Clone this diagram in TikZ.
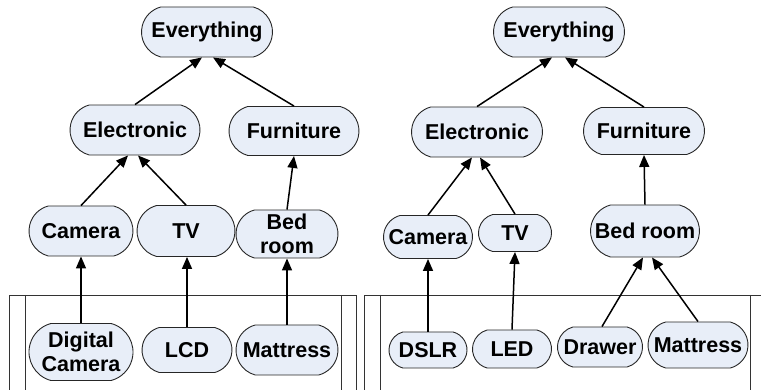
\documentclass[tikz,border=0pt]{standalone}
\usepackage{fontspec}
\setmainfont{Liberation Sans}
\usetikzlibrary{arrows.meta,shapes.misc}
\definecolor{boxfill}{RGB}{232,238,248}
\tikzset{
  cat/.style={rounded rectangle, rounded rectangle arc length=150, draw=black!85, line width=0.9pt,
    fill=boxfill, inner sep=0pt, align=center,
    font=\fontsize{21.5}{24.5}\selectfont\bfseries},
  isa/.style={-{Triangle[length=12pt,width=10pt]}, line width=1.5pt},
  panel/.style={draw=black!80, line width=0.9pt}
}
\begin{document}
\begin{tikzpicture}[x=1pt,y=-1pt]
\useasboundingbox (0,0) rectangle (761,390);

% frames round the leaf level
\draw[panel] (9,390) -- (9,295) -- (356,295) -- (356,390);
\draw[panel] (25,295) -- (25,390);
\draw[panel] (341,295) -- (341,390);
\draw[panel] (364,390) -- (364,295) -- (761,295);
\draw[panel] (380,295) -- (380,390);
\draw[panel] (750,295) -- (750,390);

% first hierarchy
\node[cat, minimum width=131pt, minimum height=50pt] (a0) at (207,32) {Everything};
\node[cat, minimum width=130pt, minimum height=50pt] (a1) at (135,130) {Electronic};
\node[cat, minimum width=130pt, minimum height=49pt] (a2) at (294,131) {Furniture};
\node[cat, minimum width=104pt, minimum height=50pt] (a3) at (81,231) {Camera};
\node[cat, minimum width=98pt, minimum height=51pt] (a4) at (186,231) {TV};
\node[cat, minimum width=102pt, minimum height=48pt] (a5) at (287,234) {Bed\\room};
\node[cat, minimum width=104pt, minimum height=57pt] (a6) at (81,352) {Digital\\Camera};
\node[cat, minimum width=90pt, minimum height=45pt] (a7) at (187,350) {LCD};
\node[cat, minimum width=102pt, minimum height=50pt] (a8) at (287,350) {Mattress};

\draw[isa] (a1.north) -- ([xshift=-5pt]a0.south);
\draw[isa] (a2.north) -- ([xshift=6pt]a0.south);
\draw[isa] (a3.north) -- ([xshift=-7pt]a1.south);
\draw[isa] (a4.north) -- ([xshift=3pt]a1.south);
\draw[isa] (a5.north) -- (a2.south);
\draw[isa] (a6.north) -- (a3.south);
\draw[isa] (a7.north) -- ([xshift=1pt]a4.south);
\draw[isa] (a8.north) -- (a5.south);

% second hierarchy
\node[cat, minimum width=131pt, minimum height=50pt] (b0) at (559,32) {Everything};
\node[cat, minimum width=131pt, minimum height=50pt] (b1) at (477,132) {Electronic};
\node[cat, minimum width=121pt, minimum height=47pt] (b2) at (644,131) {Furniture};
\node[cat, minimum width=89pt, minimum height=43pt] (b3) at (428,237) {Camera};
\node[cat, minimum width=73pt, minimum height=37pt] (b4) at (515,233) {TV};
\node[cat, minimum width=109pt, minimum height=52pt] (b5) at (645,231) {Bed room};
\node[cat, minimum width=78pt, minimum height=36pt] (b6) at (428,350) {DSLR};
\node[cat, minimum width=79pt, minimum height=38pt] (b7) at (512,349) {LED};
\node[cat, minimum width=85pt, minimum height=40pt] (b8) at (600,347) {Drawer};
\node[cat, minimum width=100pt, minimum height=46pt] (b9) at (698,345) {Mattress};

\draw[isa] (b1.north) -- ([xshift=-7pt]b0.south);
\draw[isa] (b2.north) -- ([xshift=6pt]b0.south);
\draw[isa] (b3.north) -- ([xshift=-5pt]b1.south);
\draw[isa] (b4.north) -- ([xshift=3pt]b1.south);
\draw[isa] (b5.north) -- (b2.south);
\draw[isa] (b6.north) -- (b3.south);
\draw[isa] (b7.north) -- (b4.south);
\draw[isa] ([xshift=2pt]b8.north) -- ([xshift=-2pt]b5.south);
\draw[isa] (b9.north) -- ([xshift=7pt]b5.south);
\end{tikzpicture}
\end{document}
